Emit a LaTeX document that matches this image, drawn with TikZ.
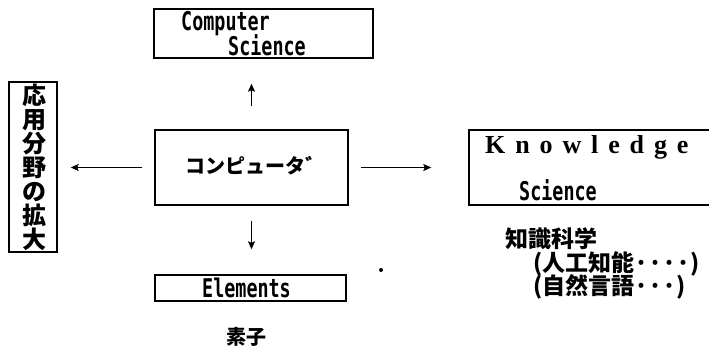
\documentclass[tikz,border=0pt]{standalone}
\usepackage{fontspec}
\usepackage{graphicx}
\usetikzlibrary{arrows.meta}
\newfontfamily\jpfont{Noto Sans CJK JP}
\newfontfamily\mymono{DejaVu Sans Mono}
\newfontfamily\kfont[LetterSpace=38]{Liberation Serif}
\newcommand{\mtxt}[1]{\scalebox{0.8}[1.12]{\mymono\bfseries\fontsize{23}{23}\selectfont #1}}
\begin{document}
\begin{tikzpicture}[x=1pt,y=-1pt,
  box/.style={draw, line width=1.4pt, inner sep=0pt, rectangle},
  lbl/.style={inner sep=0pt, anchor=base west},
  jtxt/.style={inner sep=0pt, font=\jpfont\bfseries},
  arr/.style={line width=1.3pt, -{Stealth[length=8pt,width=7pt,inset=1.5pt]}}]
\useasboundingbox[fill=white] (0,0) rectangle (709,349);
% Computer Science
\node[box, minimum width=219pt, minimum height=49pt] (cs) at (263.5,33.5) {};
\node[lbl] (cs1) at (181,30) {\mtxt{Computer}};
\node[lbl] (cs2) at (228,55) {\mtxt{Science}};
% centre
\node[box, minimum width=193pt, minimum height=75pt] (c) at (251.5,167.5) {};
\node[jtxt] (ct) at (255,166) {\fontsize{20}{20}\selectfont コンピュータ゛};
% left
\node[box, minimum width=48pt, minimum height=170pt] (l) at (33,167) {};
\node[jtxt, align=center, font=\jpfont\bfseries\fontsize{24}{24}\selectfont] (lt) at (34,167) {応\\用\\分\\野\\の\\拡\\大};
% Knowledge
\node[box, minimum width=260pt, minimum height=75pt] (k) at (599,167.5) {};
\node[lbl] (kt) at (485,153) {\kfont\bfseries\fontsize{26}{26}\selectfont Knowledge};
\node[lbl] (ks) at (519,200) {\mtxt{Science}};
% Elements
\node[box, minimum width=191pt, minimum height=26pt] (e) at (250.5,288) {};
\node[lbl] (et) at (202,297) {\mtxt{Elements}};
\node[jtxt] (so) at (246.5,336.5) {\fontsize{20}{20}\selectfont 素子};
% knowledge science notes
\node[jtxt, anchor=west] (k1) at (505,239) {\fontsize{23}{23}\selectfont 知識科学};
\node[jtxt, anchor=west] (k2) at (533,264) {\fontsize{23}{23}\selectfont (人工知能····)};
\node[jtxt, anchor=west] (k3) at (533,287) {\fontsize{23}{23}\selectfont (自然言語···)};
\fill (381,270) circle (2pt);
% arrows
\draw[arr, shorten <=23pt, shorten >=25pt] (c.north) -- (c.north |- cs.south);
\draw[arr, shorten <=12pt, shorten >=13pt] (c.west) -- (c.west -| l.east);
\draw[arr, shorten <=12pt, shorten >=37pt] (c.east) -- (c.east -| k.west);
\draw[arr, shorten <=15pt, shorten >=25pt] (c.south) -- (c.south |- e.north);
\end{tikzpicture}
\end{document}
